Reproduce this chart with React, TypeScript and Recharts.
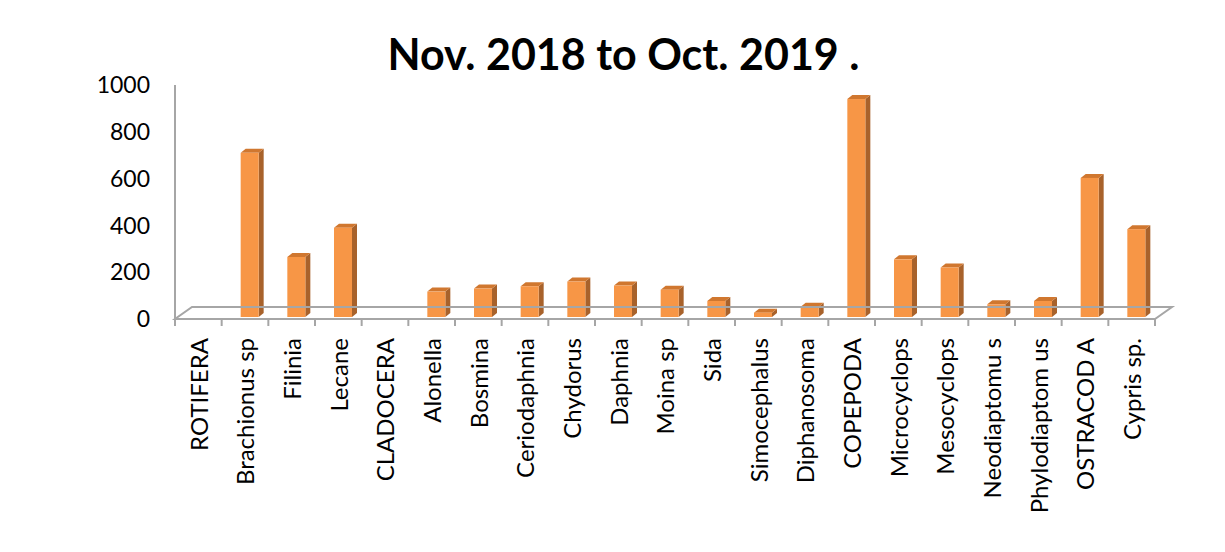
import React from 'react';
import { BarChart, Bar, XAxis, YAxis, ReferenceLine } from 'recharts';

const categories = [
  'ROTIFERA', 'Brachionus sp', 'Filinia', 'Lecane', 'CLADOCERA', 'Alonella', 'Bosmina',
  'Ceriodaphnia', 'Chydorus', 'Daphnia', 'Moina sp', 'Sida', 'Simocephalus', 'Diphanosoma',
  'COPEPODA', 'Microcyclops', 'Mesocyclops', 'Neodiaptomu s', 'Phylodiaptom us', 'OSTRACOD A',
  'Cypris sp.',
];
const counts = [0, 710, 265, 390, 0, 117, 130, 140, 160, 143, 125, 77, 27, 52, 940, 255, 220, 63, 77, 603, 384];
const yTicks = [0, 200, 400, 600, 800, 1000];
const title = 'Nov. 2018 to Oct. 2019 .';

const data = categories.map((name, i) => ({ name, value: counts[i] }));

const FONT = 'Lato, "Open Sans", sans-serif';
const AXIS = '#a6a6a6';
const PLOT_W = 980;
const BAND = PLOT_W / categories.length;

// 3d look: front face + side + top
const Bar3D = (props: any) => {
  const { x, y, width, height } = props;
  if (!height || height <= 0) return null;
  const fx = x + 5;
  const d = 5;
  const r = 4;
  const bottom = y + height - 2;
  return (
    <g>
      <path
        d={`M${fx + width},${y} L${fx + width + d},${y - r} L${fx + width + d},${bottom - r} L${fx + width},${bottom} Z`}
        fill="#a8622b"
      />
      <path
        d={`M${fx},${y} L${fx + d},${y - r} L${fx + width + d},${y - r} L${fx + width},${y} Z`}
        fill="#d0772f"
      />
      <rect x={fx} y={y} width={width} height={bottom - y} fill="#f79646" />
    </g>
  );
};

const Floor = (props: any) => {
  const { x1, y1, x2, y2 } = props;
  const dx = 17;
  const dy = 12;
  return (
    <path
      d={`M${x1},${y1} L${x2},${y2} L${x2 + dx},${y2 - dy} L${x1 + dx},${y1 - dy} Z`}
      fill="none"
      stroke={AXIS}
      strokeWidth={2}
    />
  );
};

const CatTick = (props: any) => {
  const { x, y, payload, index } = props;
  const half = BAND / 2;
  return (
    <g>
      <line x1={x - half} y1={y} x2={x - half} y2={y + 7} stroke={AXIS} strokeWidth={2} />
      {index === categories.length - 1 && (
        <line x1={x + half} y1={y} x2={x + half} y2={y + 7} stroke={AXIS} strokeWidth={2} />
      )}
      <text
        transform={`translate(${x + 1},${y + 19}) rotate(-90)`}
        textAnchor="end"
        dy="0.35em"
        fontSize={24}
        fontFamily={FONT}
        fill="#000"
      >
        {payload.value}
      </text>
    </g>
  );
};

const App: React.FC = () => {
  return (
    <div
      style={{
        position: 'relative',
        width: 1219,
        height: 546,
        marginLeft: -2,
        marginTop: -2,
        borderLeft: '2px solid #8c8c8c',
        borderTop: '2px solid #8c8c8c',
        background: '#fff',
      }}
    >
      <div
        style={{
          position: 'absolute',
          left: 0,
          right: 0,
          top: 20,
          textAlign: 'center',
          paddingLeft: 12,
          fontFamily: FONT,
          fontWeight: 700,
          fontSize: 43,
          lineHeight: '52px',
          color: '#000',
        }}
      >
        {title}
      </div>
      <BarChart
        width={1217}
        height={544}
        data={data}
        margin={{ top: 77, right: 70, left: 0, bottom: 33 }}
        barSize={18}
      >
        <XAxis
          dataKey="name"
          interval={0}
          height={200}
          tickLine={false}
          tickSize={0}
          tickMargin={0}
          axisLine={false}
          tick={<CatTick />}
        />
        <YAxis
          domain={[0, 1000]}
          ticks={yTicks}
          width={167}
          tickLine={false}
          tickSize={0}
          tickMargin={25}
          axisLine={{ stroke: AXIS, strokeWidth: 2 }}
          tick={{ fontSize: 23, fontFamily: FONT, fill: '#000' }}
        />
        <ReferenceLine y={0} shape={<Floor />} />
        <Bar dataKey="value" shape={<Bar3D />} isAnimationActive={false} />
      </BarChart>
    </div>
  );
};

export default App;
